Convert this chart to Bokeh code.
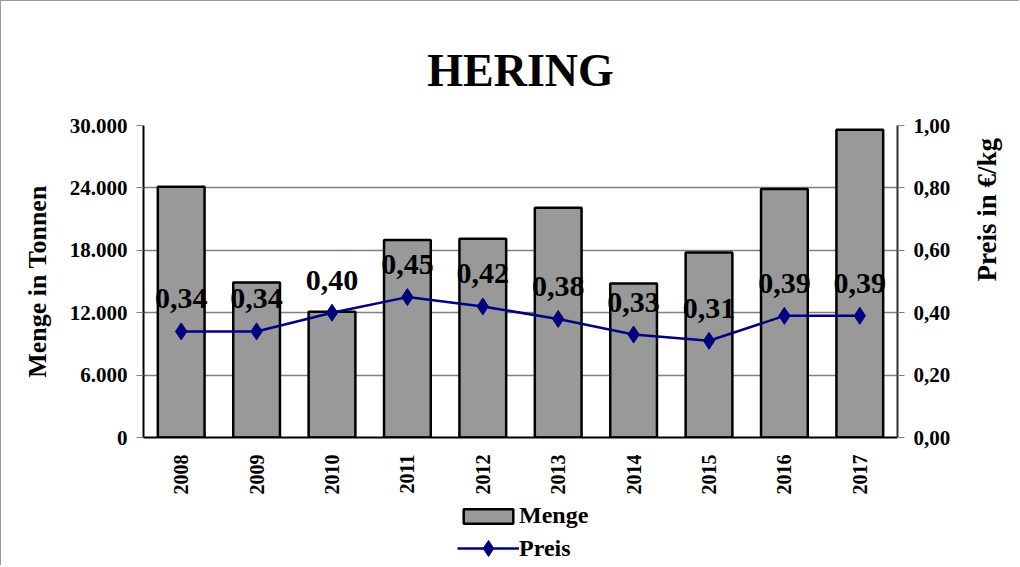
import math
from bokeh.plotting import figure
from bokeh.layouts import column
from bokeh.models import (Range1d, LinearAxis, FixedTicker, ColumnDataSource,
                          LabelSet, Legend, LegendItem, FactorRange)
from bokeh.core.properties import value
from bokeh.embed import file_html
from bokeh.resources import INLINE

years = ["2008", "2009", "2010", "2011", "2012", "2013", "2014", "2015", "2016", "2017"]
menge = [24100, 14900, 12100, 19000, 19100, 22100, 14800, 17800, 23900, 29600]
preis = [0.34, 0.34, 0.40, 0.45, 0.42, 0.38, 0.33, 0.31, 0.39, 0.39]
preis_labels = ["0,34", "0,34", "0,40", "0,45", "0,42", "0,38", "0,33", "0,31", "0,39", "0,39"]
left_ticks = [0, 6000, 12000, 18000, 24000, 30000]
left_tick_labels = ["0", "6.000", "12.000", "18.000", "24.000", "30.000"]
right_ticks = [0.0, 0.2, 0.4, 0.6, 0.8, 1.0]
right_tick_labels = ["0,00", "0,20", "0,40", "0,60", "0,80", "1,00"]
series_names = ["Menge", "Preis"]

SERIF = "Liberation Serif"
BAR_FILL = "#999999"
NAVY = "#000080"

src = ColumnDataSource(dict(year=years, menge=menge, preis=preis, lbl=preis_labels))
xr = FactorRange(factors=years, range_padding=0)

p = figure(x_range=xr, y_range=Range1d(0, 30000),
           width=1019, height=496,
           output_backend="svg", toolbar_location=None,
           min_border_left=142, min_border_right=122,
           min_border_top=124, min_border_bottom=60,
           title="HERING")
p.extra_y_ranges = {"price": Range1d(0, 1)}
p.background_fill_color = "white"
p.border_fill_color = "white"
p.outline_line_color = None

p.title.text_font = SERIF
p.title.text_font_style = "bold"
p.title.text_font_size = "46px"
p.title.text_color = "black"
p.title.align = "center"
p.title.standoff = 60

bars = p.vbar(x="year", top="menge", width=0.62, source=src,
              fill_color=BAR_FILL, line_color="black", line_width=2.5)
line = p.line(x="year", y="preis", source=src, y_range_name="price",
              line_color=NAVY, line_width=2.5)
pts = p.scatter(x="year", y="preis", source=src, y_range_name="price",
                marker="diamond", size=17, fill_color=NAVY, line_color=NAVY)

labels = LabelSet(x="year", y="preis", text="lbl", source=src, y_range_name="price",
                  y_offset=23, text_align="center", text_baseline="alphabetic",
                  text_font=value(SERIF), text_font_style="bold",
                  text_font_size="30px", text_color="black")
p.add_layout(labels)

# left axis
ya = p.yaxis[0]
ya.ticker = FixedTicker(ticks=left_ticks)
ya.major_label_overrides = dict(zip(left_ticks, left_tick_labels))
ya.axis_label = "Menge in Tonnen"
ya.axis_label_text_font = SERIF
ya.axis_label_text_font_style = "bold"
ya.axis_label_text_font_size = "26px"
ya.axis_label_text_color = "black"
ya.axis_label_standoff = 15
ya.major_label_text_font = SERIF
ya.major_label_text_font_style = "bold"
ya.major_label_text_font_size = "21px"
ya.major_label_text_color = "black"
ya.major_label_standoff = 9
ya.major_tick_out = 7
ya.major_tick_in = 0
ya.major_tick_line_color = "#808080"
ya.minor_tick_line_color = None
ya.axis_line_color = "black"
ya.axis_line_width = 2

# right axis
ra = LinearAxis(y_range_name="price", ticker=FixedTicker(ticks=right_ticks),
                axis_label="Preis in €/kg")
ra.major_label_overrides = dict(zip(right_ticks, right_tick_labels))
ra.axis_label_text_font = SERIF
ra.axis_label_text_font_style = "bold"
ra.axis_label_text_font_size = "27px"
ra.axis_label_text_color = "black"
ra.axis_label_standoff = 34
ra.axis_label_orientation = math.pi / 2
ra.major_label_text_font = SERIF
ra.major_label_text_font_style = "bold"
ra.major_label_text_font_size = "21px"
ra.major_label_text_color = "black"
ra.major_label_standoff = 9
ra.major_tick_out = 7
ra.major_tick_in = 0
ra.major_tick_line_color = "#808080"
ra.minor_tick_line_color = None
ra.axis_line_color = "#303030"
ra.axis_line_width = 2
p.add_layout(ra, "right")

# x axis
xa = p.xaxis[0]
xa.major_label_orientation = math.pi / 2
xa.major_label_text_font = SERIF
xa.major_label_text_font_style = "bold"
xa.major_label_text_font_size = "20px"
xa.major_label_text_color = "black"
xa.major_label_standoff = 11
xa.major_tick_line_color = None
xa.minor_tick_line_color = None
xa.axis_line_color = "black"
xa.axis_line_width = 2

p.xgrid.visible = False
p.ygrid.ticker = FixedTicker(ticks=left_ticks)
p.ygrid.grid_line_color = "#808080"
p.ygrid.grid_line_width = 1.5

p.styles = {"border-left": "1px solid #9a9a9a", "border-top": "1px solid #9a9a9a"}

# legend strip below the chart (hidden renderers only feed the legend glyphs)
lp = figure(width=1019, height=69, x_range=xr, y_range=Range1d(0, 30000),
            output_backend="svg", toolbar_location=None, min_border=0)
lp.axis.visible = False
lp.grid.visible = False
lp.outline_line_color = None
lp.background_fill_color = "white"
lp.border_fill_color = "white"
lbar = lp.vbar(x="year", top="menge", width=0.62, source=src,
               fill_color=BAR_FILL, line_color="black", line_width=2.5, visible=False)
lline = lp.line(x="year", y="menge", source=src, line_color=NAVY, line_width=2.5,
                visible=False)
lpts = lp.scatter(x="year", y="menge", source=src, marker="diamond", size=17,
                  fill_color=NAVY, line_color=NAVY, visible=False)

common = dict(orientation="vertical", border_line_color=None, background_fill_alpha=0,
              label_text_font=SERIF, label_text_font_style="bold",
              label_text_font_size="24px", label_text_color="black",
              glyph_width=62, label_height=25, padding=0, margin=0, label_standoff=0)
legend_a = Legend(items=[LegendItem(label=series_names[0], renderers=[lbar])],
                  location=(314, 36), glyph_height=18, **common)
legend_b = Legend(items=[LegendItem(label=series_names[1], renderers=[lline, lpts])],
                  location=(314, -3), glyph_height=40, **common)
lp.add_layout(legend_a, "center")
lp.add_layout(legend_b, "center")
lp.styles = {"border-left": "1px solid #9a9a9a"}

layout = column(p, lp, spacing=0)
open("out.html", "w").write(file_html(layout, INLINE))
